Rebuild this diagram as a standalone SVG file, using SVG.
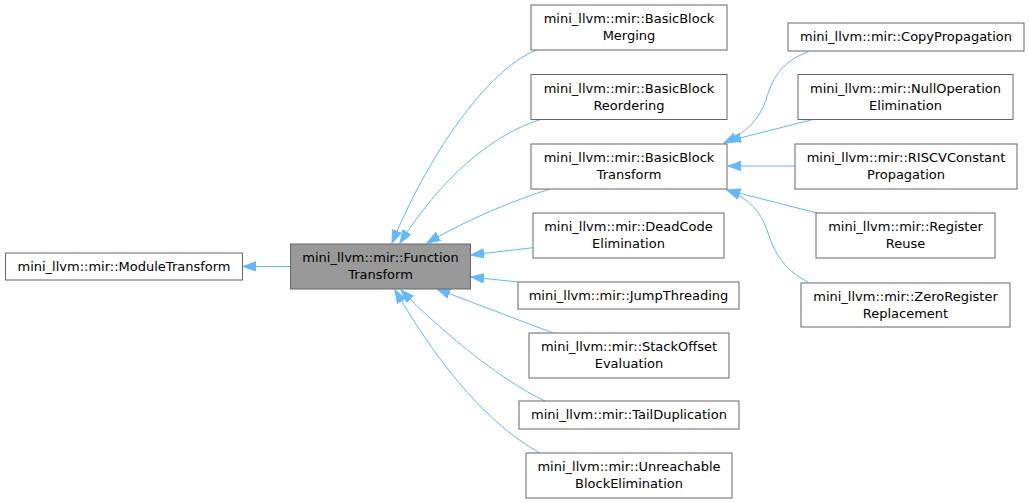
<svg xmlns="http://www.w3.org/2000/svg" width="1029" height="503" viewBox="0 0 1029 503">
<style>
.box{fill:#ffffff;stroke:#666666;stroke-width:1}
.cur{fill:#999999;stroke:#666666;stroke-width:1}
text{font-family:"DejaVu Sans",sans-serif;font-size:13px;fill:#000000;text-anchor:middle}
.e{fill:none;stroke:#63b8ff;stroke-width:1;marker-end:url(#ah)}
</style>
<defs>
<marker id="ah" markerUnits="userSpaceOnUse" markerWidth="14" markerHeight="10" refX="13" refY="4.7" orient="auto">
<path d="M0,0 L13,4.7 L0,9.4 z" fill="#63b8ff" stroke="#63b8ff" stroke-width="1"/>
</marker>
</defs>
<rect width="1029" height="503" fill="#ffffff"/>
<g id="connectors">
<path class="e" d="M290,266.5 L243,266.5"/>
<path class="e" d="M537,50 C495,65 435,140 392,243"/>
<path class="e" d="M542,119 C490,135 440,180 400,243"/>
<path class="e" d="M550,189 C515,200 470,218 427,243"/>
<path class="e" d="M533,247.7 L471,255"/>
<path class="e" d="M518,282 L471,277"/>
<path class="e" d="M553,333 L437,289"/>
<path class="e" d="M545,401 C500,380 440,330 401,290"/>
<path class="e" d="M540,453 C480,420 430,350 395,290"/>
<path class="e" d="M808,52 C780,62 772,80 766,100 C758,122 745,133 724,143"/>
<path class="e" d="M815,119 L728,141"/>
<path class="e" d="M795,166 L728,166"/>
<path class="e" d="M817,213 L727,190"/>
<path class="e" d="M808,282 C785,270 775,255 767,230 C760,210 748,198 727,190"/>
</g>
<g id="ModuleTransform"><rect class="box" x="5.5" y="253" width="237" height="27"/><text x="124" y="271">mini_llvm::mir::ModuleTransform</text></g>
<g id="FunctionTransform"><rect class="cur" x="290.5" y="244" width="180" height="45"/><text x="380.5" y="262">mini_llvm::mir::Function</text><text x="380.5" y="279">Transform</text></g>
<g id="BasicBlockMerging"><rect class="box" x="531" y="5" width="196" height="45"/><text x="629" y="23">mini_llvm::mir::BasicBlock</text><text x="629" y="40">Merging</text></g>
<g id="BasicBlockReordering"><rect class="box" x="531" y="74.5" width="196" height="45"/><text x="629" y="92.5">mini_llvm::mir::BasicBlock</text><text x="629" y="109.5">Reordering</text></g>
<g id="BasicBlockTransform"><rect class="box" x="531" y="144" width="196" height="45"/><text x="629" y="162">mini_llvm::mir::BasicBlock</text><text x="629" y="179">Transform</text></g>
<g id="DeadCodeElimination"><rect class="box" x="533" y="213" width="191" height="45"/><text x="628.5" y="231">mini_llvm::mir::DeadCode</text><text x="628.5" y="248">Elimination</text></g>
<g id="JumpThreading"><rect class="box" x="518" y="282" width="221" height="27"/><text x="628.5" y="300">mini_llvm::mir::JumpThreading</text></g>
<g id="StackOffsetEvaluation"><rect class="box" x="529" y="333" width="200" height="45"/><text x="629" y="351">mini_llvm::mir::StackOffset</text><text x="629" y="368">Evaluation</text></g>
<g id="TailDuplication"><rect class="box" x="519" y="401" width="220" height="28"/><text x="629" y="419">mini_llvm::mir::TailDuplication</text></g>
<g id="UnreachableBlockElimination"><rect class="box" x="526" y="453" width="206" height="45"/><text x="629" y="471">mini_llvm::mir::Unreachable</text><text x="629" y="488">BlockElimination</text></g>
<g id="CopyPropagation"><rect class="box" x="788" y="23" width="236" height="28"/><text x="906" y="41">mini_llvm::mir::CopyPropagation</text></g>
<g id="NullOperationElimination"><rect class="box" x="798" y="74.5" width="215" height="45"/><text x="905.5" y="92.5">mini_llvm::mir::NullOperation</text><text x="905.5" y="109.5">Elimination</text></g>
<g id="RISCVConstantPropagation"><rect class="box" x="795" y="144" width="222" height="45"/><text x="906" y="162">mini_llvm::mir::RISCVConstant</text><text x="906" y="179">Propagation</text></g>
<g id="RegisterReuse"><rect class="box" x="816" y="213" width="179" height="45"/><text x="905.5" y="231">mini_llvm::mir::Register</text><text x="905.5" y="248">Reuse</text></g>
<g id="ZeroRegisterReplacement"><rect class="box" x="801" y="283" width="209" height="44"/><text x="905.5" y="301">mini_llvm::mir::ZeroRegister</text><text x="905.5" y="318">Replacement</text></g>
</svg>
